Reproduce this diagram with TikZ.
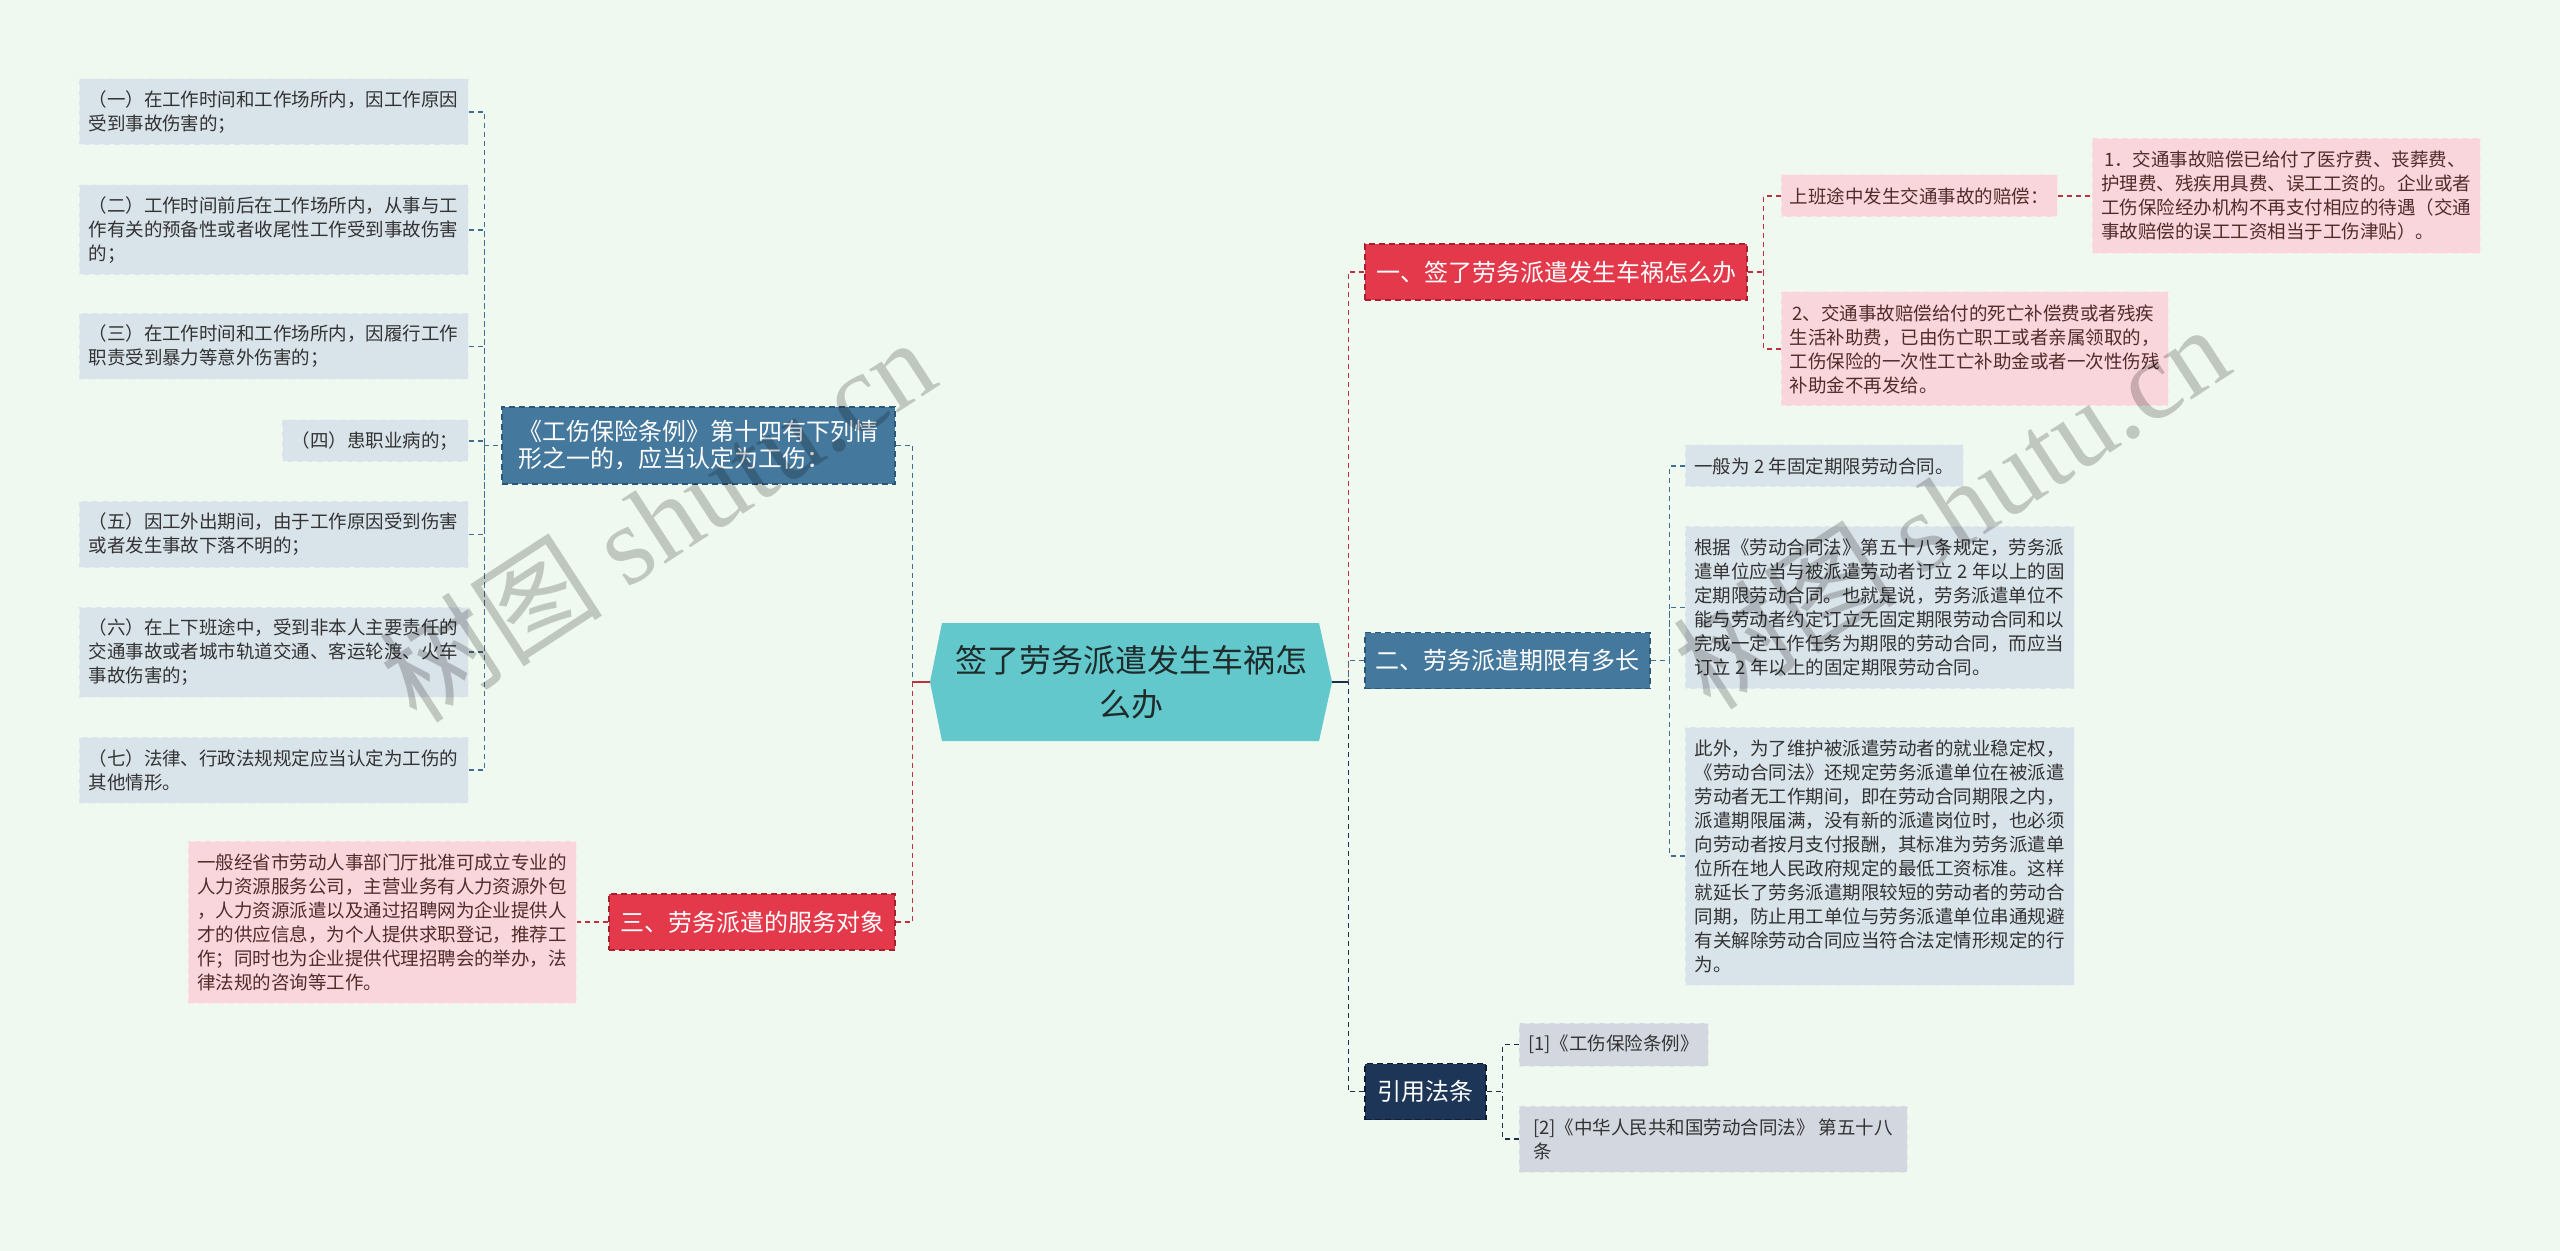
\documentclass[tikz,border=0pt]{standalone}
\usepackage{fontspec}
\setmainfont{Noto Sans CJK SC}
\newfontfamily\wmfont{Liberation Serif}
\usepackage{xcolor}
\usepackage{tikz}

\definecolor{PageGreen}{HTML}{F0F9EF}
\definecolor{RootTeal}{HTML}{62C8CC}
\definecolor{RootText}{HTML}{1F2B2B}
\definecolor{CrashRed}{HTML}{E3394A}
\definecolor{CrashEdge}{HTML}{A8202E}
\definecolor{TermBlue}{HTML}{45789D}
\definecolor{TermEdge}{HTML}{2D5777}
\definecolor{CiteNavy}{HTML}{1D3557}
\definecolor{CiteEdge}{HTML}{0E1B30}
\definecolor{LeafBlue}{HTML}{D9E3EA}
\definecolor{LeafPink}{HTML}{F9D6DB}
\definecolor{LeafGray}{HTML}{D3D7DF}
\definecolor{LeafText}{HTML}{333333}
\definecolor{LinkRed}{HTML}{C0303F}
\definecolor{LinkBlue}{HTML}{3F6E94}
\definecolor{LinkNavy}{HTML}{1A2E4C}

\tikzset{
  box/.style={inner sep=0pt, align=left, text=LeafText},
  leaf/.style={box, draw, dash pattern=on 3pt off 2pt, line width=0.5pt,
    font=\fontsize{9.25}{12}\selectfont},
  blueleaf/.style={leaf, fill=LeafBlue, draw=LeafBlue!55!white},
  pinkleaf/.style={leaf, fill=LeafPink, draw=LeafPink!55!white, text=LeafText!85!red},
  grayleaf/.style={leaf, fill=LeafGray, draw=LeafGray!55!white},
  topic/.style={box, text=white, draw, dash pattern=on 3pt off 2pt, line width=0.6pt,
    font=\fontsize{12}{13.5}\selectfont},
  redtopic/.style={topic, fill=CrashRed, draw=CrashEdge},
  bluetopic/.style={topic, fill=TermBlue, draw=TermEdge},
  navytopic/.style={topic, fill=CiteNavy, draw=CiteEdge},
  roottext/.style={box, align=center, text=RootText, minimum width=201pt,
    minimum height=59pt, font=\fontsize{16}{22}\selectfont},
  link/.style={line width=0.75pt, dash pattern=on 2.5pt off 2pt},
  linkred/.style={link, LinkRed},
  linkblue/.style={link, LinkBlue},
  linknavy/.style={link, LinkNavy},
  wmark/.style={inner sep=0pt, text=black, opacity=0.2, rotate=33,
    font=\fontsize{56}{60}\selectfont},
  wh/.style 2 args={minimum width=#1pt, minimum height=#2pt}
}

\begin{document}
\begin{tikzpicture}[x=0.5pt,y=-0.5pt]
        % page
        \fill[PageGreen] (0,0) rectangle (2560,1251);
        \useasboundingbox (0,0) rectangle (2560,1251);

        % centre topic
        \fill[RootTeal] (930,682) -- (942,623) -- (1319,623) -- (1332,682) -- (1319,741) -- (942,741) -- cycle;
        \node[roottext] (root) at (1131,682) {签了劳务派遣发生车祸怎\\么办};

        % left branch
        \node[bluetopic, wh={196.5}{38.5}] (rule) at (698.5,445.5) {《工伤保险条例》第十四有下列情\\形之一的，应当认定为工伤：};
        \node[blueleaf, wh={194.5}{33}] (l1) at (273.5,112) {（一）在工作时间和工作场所内，因工作原因\\受到事故伤害的；};
        \node[blueleaf, wh={194.5}{45}] (l2) at (273.5,230) {（二）工作时间前后在工作场所内，从事与工\\作有关的预备性或者收尾性工作受到事故伤害\\的；};
        \node[blueleaf, wh={194.5}{33}] (l3) at (273.5,346.5) {（三）在工作时间和工作场所内，因履行工作\\职责受到暴力等意外伤害的；};
        \node[blueleaf, wh={93}{21}] (l4) at (375,441) {（四）患职业病的；};
        \node[blueleaf, wh={194.5}{33}] (l5) at (273.5,534.5) {（五）因工外出期间，由于工作原因受到伤害\\或者发生事故下落不明的；};
        \node[blueleaf, wh={194.5}{45}] (l6) at (273.5,652) {（六）在上下班途中，受到非本人主要责任的\\交通事故或者城市轨道交通、客运轮渡、火车\\事故伤害的；};
        \node[blueleaf, wh={194.5}{33}] (l7) at (273.5,770) {（七）法律、行政法规规定应当认定为工伤的\\其他情形。};

        \node[redtopic, wh={143}{28}] (serve) at (752,922) {三、劳务派遣的服务对象};
        \node[pinkleaf, wh={194}{81}] (servetext) at (382,922) {一般经省市劳动人事部门厅批准可成立专业的\\人力资源服务公司，主营业务有人力资源外包\\，人力资源派遣以及通过招聘网为企业提供人\\才的供应信息，为个人提供求职登记，推荐工\\作；同时也为企业提供代理招聘会的举办，法\\律法规的咨询等工作。};

        % right branch
        \node[redtopic, wh={191}{28}] (crash) at (1556,272) {一、签了劳务派遣发生车祸怎么办};
        \node[pinkleaf, wh={138}{21}] (commute) at (1919,196) {上班途中发生交通事故的赔偿：};
        \node[pinkleaf, wh={194}{57.5}] (pay1) at (2286,196) {\,1．交通事故赔偿已给付了医疗费、丧葬费、\\护理费、残疾用具费、误工工资的。企业或者\\工伤保险经办机构不再支付相应的待遇（交通\\事故赔偿的误工工资相当于工伤津贴）。};
        \node[pinkleaf, wh={193.5}{57}] (pay2) at (1974.5,349) {\,2、交通事故赔偿给付的死亡补偿费或者残疾\\生活补助费，已由伤亡职工或者亲属领取的，\\工伤保险的一次性工亡补助金或者一次性伤残\\补助金不再发给。};

        \node[bluetopic, wh={142.5}{28}] (term) at (1507.5,660.5) {二、劳务派遣期限有多长};
        \node[blueleaf, wh={139}{21}] (t1) at (1824,466) {一般为 2 年固定期限劳动合同。};
        \node[blueleaf, wh={194.5}{81}] (t2) at (1879.5,607.5) {根据《劳动合同法》第五十八条规定，劳务派\\遣单位应当与被派遣劳动者订立 2 年以上的固\\定期限劳动合同。也就是说，劳务派遣单位不\\能与劳动者约定订立无固定期限劳动合同和以\\完成一定工作任务为期限的劳动合同，而应当\\订立 2 年以上的固定期限劳动合同。};
        \node[blueleaf, wh={194.5}{129}] (t3) at (1879.5,856) {此外，为了维护被派遣劳动者的就业稳定权，\\《劳动合同法》还规定劳务派遣单位在被派遣\\劳动者无工作期间，即在劳动合同期限之内，\\派遣期限届满，没有新的派遣岗位时，也必须\\向劳动者按月支付报酬，其标准为劳务派遣单\\位所在地人民政府规定的最低工资标准。这样\\就延长了劳务派遣期限较短的劳动者的劳动合\\同期，防止用工单位与劳务派遣单位串通规避\\有关解除劳动合同应当符合法定情形规定的行\\为。};

        \node[navytopic, wh={60.5}{28}] (cite) at (1425.5,1091.5) {引用法条};
        \node[grayleaf, wh={94.5}{21.5}] (c1) at (1613.5,1044.5) {[1]《工伤保险条例》};
        \node[grayleaf, wh={194}{33}] (c2) at (1713,1139) {[2]《中华人民共和国劳动合同法》 第五十八\\条};

        % junctions
        \coordinate (jl) at ([xshift=-8.5pt]root.west);
        \coordinate (jr) at ([xshift=8pt]root.east);
        \coordinate (jrule) at ([xshift=-8.5pt]rule.west);
        \coordinate (jcrash) at ([xshift=8pt]crash.east);
        \coordinate (jterm) at ([xshift=9.5pt]term.east);
        \coordinate (jcite) at ([xshift=8pt]cite.east);

        % connectors
        \draw[LinkRed, line width=0.9pt] (root.west) -- (jl);
        \draw[LinkNavy, line width=0.9pt] (root.east) -- (jr);
        \draw[linkblue] (rule.east) -| (jl);
        \draw[linkred] (serve.east) -| (jl);
        \draw[linkred] (serve.west) -- (servetext.east);
        \draw[linkblue] (jrule) -- (rule.west);
        \draw[linkblue] (l1.east) -| (jrule);
        \draw[linkblue] (l2.east) -| (jrule);
        \draw[linkblue] (l3.east) -| (jrule);
        \draw[linkblue] (l4.east) -| (jrule);
        \draw[linkblue] (l5.east) -| (jrule);
        \draw[linkblue] (l6.east) -| (jrule);
        \draw[linkblue] (l7.east) -| (jrule);

        \draw[linkred] (crash.west) -| (jr);
        \draw[linkblue] (term.west) -| (jr);
        \draw[linknavy] (cite.west) -| (jr);
        \draw[linkred] (crash.east) -- (jcrash);
        \draw[linkred] (commute.west) -| (jcrash);
        \draw[linkred] (pay2.west) -| (jcrash);
        \draw[linkred] (commute.east) -- (pay1.west);
        \draw[linkblue] (term.east) -- (jterm);
        \draw[linkblue] (t1.west) -| (jterm);
        \draw[linkblue] (t2.west) -| (jterm);
        \draw[linkblue] (t3.west) -| (jterm);
        \draw[linknavy] (cite.east) -- (jcite);
        \draw[linknavy] (c1.west) -| (jcite);
        \draw[linknavy] (c2.west) -| (jcite);

        % watermarks
        \node[wmark] (wm1) at (657,519) {树图 {\wmfont shutu.cn}};
        \node[wmark] (wm2) at (1951,506) {树图 {\wmfont shutu.cn}};
\end{tikzpicture}
\end{document}
